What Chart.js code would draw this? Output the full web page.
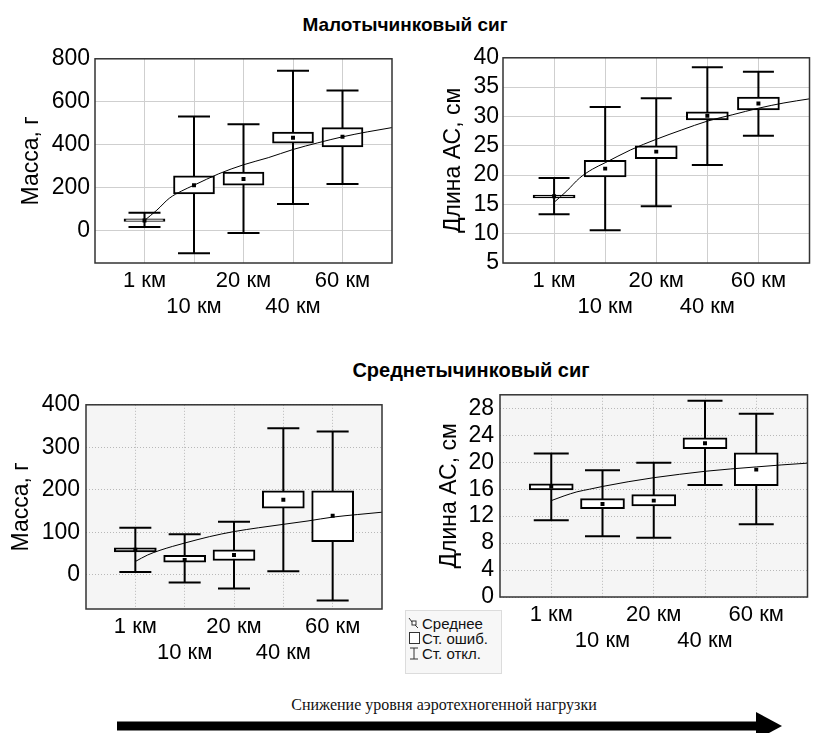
<!DOCTYPE html>
<html><head><meta charset="utf-8">
<script src="https://cdn.jsdelivr.net/npm/chart.js@4.4.1/dist/chart.umd.min.js"></script>
<style>
body{margin:0;width:827px;height:733px;background:#fff;position:relative;overflow:hidden;font-family:Arial,'Liberation Sans',sans-serif;}
canvas{position:absolute;}
.title{position:absolute;font-weight:bold;white-space:nowrap;transform:translate(-50%,-50%);color:#000;}
#legend{position:absolute;left:405px;top:610px;width:95px;height:62px;background:#f7f7f7;border:1px solid #dcdcdc;font-size:15px;color:#111;}
#legend .row{position:absolute;left:2px;height:15px;line-height:15px;white-space:nowrap;}
#legend svg{position:absolute;left:0;top:1px;}
#legend span{position:absolute;left:14px;top:0;}
#arrowText{position:absolute;left:444px;top:705px;transform:translate(-50%,-50%);font-family:'Liberation Serif','Times New Roman',serif;font-size:16px;white-space:nowrap;color:#111;}
</style></head><body>
<div class="title" style="left:405px;top:25px;font-size:19px">Малотычинковый сиг</div>
<div class="title" style="left:471px;top:370px;font-size:20px">Среднетычинковый сиг</div>
<canvas id="c1" width="410" height="290" style="left:0;top:40px"></canvas>
<canvas id="c2" width="412" height="290" style="left:415px;top:40px"></canvas>
<canvas id="c3" width="400" height="300" style="left:0;top:385px"></canvas>
<canvas id="c4" width="417" height="310" style="left:410px;top:375px"></canvas>
<div id="legend">
  <div class="row" style="top:5px"><svg width="12" height="13"><path d="M1 1 L4 5 L10 11" stroke="#333" fill="none" stroke-width="1"/><rect x="4" y="4" width="4" height="4" fill="#fff" stroke="#333"/></svg><span>Среднее</span></div>
  <div class="row" style="top:20px"><svg width="12" height="13"><rect x="1.5" y="0.5" width="10" height="11" fill="#fff" stroke="#333"/></svg><span>Ст. ошиб.</span></div>
  <div class="row" style="top:35px"><svg width="12" height="13"><path d="M2 1 H10 M6 1 V12 M2 12 H10" stroke="#333" fill="none"/></svg><span>Ст. откл.</span></div>
</div>
<div id="arrowText">Снижение уровня аэротехногенной нагрузки</div>
<svg width="827" height="733" style="position:absolute;left:0;top:0;pointer-events:none">
  <rect x="117" y="721.5" width="642" height="9" fill="#000"/>
  <polygon points="756,712 782,726 756,740" fill="#000"/>
</svg>
<script>
// ---- data ----
const categories = ['1 км', '10 км', '20 км', '40 км', '60 км'];
const trendX = [0, 0.25, 0.5, 0.75, 1, 1.5, 2, 2.5, 3, 3.5, 4, 4.5, 5];

// Малотычинковый сиг — масса, г
const m1Ticks = [0, 200, 400, 600, 800];
const m1Mean = [48, 212, 241, 433, 437];
const m1SeLo = [44, 171, 212, 407, 390];
const m1SeHi = [55, 256, 273, 459, 480];
const m1SdLo = [17, -105, -11, 124, 217];
const m1SdHi = [84, 531, 496, 744, 653];
const m1Trend = [48, 96, 151, 185, 212, 265, 307, 340, 378, 409, 437, 460, 480];

// Малотычинковый сиг — длина АС, см
const l1Ticks = [5, 10, 15, 20, 25, 30, 35, 40];
const l1Mean = [16.4, 21.1, 24.0, 30.1, 32.2];
const l1SeLo = [16.1, 19.7, 22.8, 29.4, 31.1];
const l1SeHi = [16.6, 22.5, 25.0, 30.8, 33.3];
const l1SdLo = [13.3, 10.6, 14.7, 21.7, 26.7];
const l1SdHi = [19.5, 31.6, 33.1, 38.4, 37.6];
const l1Trend = [15.35, 17.3, 19.5, 21.0, 22.1, 24.3, 26.1, 27.7, 29.2, 30.3, 31.4, 32.3, 33.0];

// Среднетычинковый сиг — масса, г
const m2Ticks = [0, 100, 200, 300, 400];
const m2Mean = [59.5, 35.5, 47, 177, 139];
const m2SeLo = [54, 30, 34, 157, 78];
const m2SeHi = [64, 46, 59, 198, 198];
const m2SdLo = [7, -18, -32, 8.5, -60];
const m2SdHi = [111, 96, 125, 345, 337];
const m2Trend = [31.7, 47, 58, 67, 75, 90, 102, 111, 119, 127, 136, 142, 147.5];

// Среднетычинковый сиг — длина АС, см
const l2Ticks = [0, 4, 8, 12, 16, 20, 24, 28];
const l2Mean = [16.4, 13.8, 14.3, 22.8, 18.9];
const l2SeLo = [15.9, 13.1, 13.5, 22.0, 16.5];
const l2SeHi = [16.8, 14.6, 15.2, 23.6, 21.4];
const l2SdLo = [11.4, 9.0, 8.8, 16.6, 10.8];
const l2SdHi = [21.3, 18.8, 19.9, 29.1, 27.2];
const l2Trend = [14.3, 15.0, 15.6, 16.0, 16.4, 17.1, 17.7, 18.2, 18.65, 19.0, 19.3, 19.6, 19.86];

// ---- rendering ----
Chart.defaults.font.family = 'Arial, "Liberation Sans", sans-serif';
Chart.defaults.color = '#000';

const framePlugin = {
  id: 'frame',
  beforeDraw(chart, args, opts) {
    const {ctx, chartArea: a} = chart;
    if (opts.bg) { ctx.save(); ctx.fillStyle = opts.bg; ctx.fillRect(a.left, a.top, a.width, a.height); ctx.restore(); }
  },
  afterDraw(chart) {
    const {ctx, chartArea: a} = chart;
    ctx.save(); ctx.strokeStyle = '#333'; ctx.lineWidth = 1.5;
    ctx.strokeRect(a.left, a.top, a.width, a.height); ctx.restore();
  }
};

function boxChart(id, o) {
  const idx = o.mean.map((_, i) => i);
  return new Chart(document.getElementById(id), {
    type: 'scatter',
    data: { datasets: [
      { type: 'bar', data: idx.map(i => ({x: i, y: [o.sdLo[i], o.sdHi[i]]})), backgroundColor: '#000', borderWidth: 0, barThickness: 2, inflateAmount: 0, grouped: false, order: 5 },
      { type: 'bar', data: idx.map(i => ({x: i, y: [o.seLo[i], o.seHi[i]]})), backgroundColor: '#fff', borderColor: '#000', borderWidth: 2, borderSkipped: false, barThickness: o.boxW, grouped: false, order: 4 },
      { type: 'scatter', data: idx.flatMap(i => [{x: i, y: o.sdLo[i]}, {x: i, y: o.sdHi[i]}]), pointStyle: 'line', pointRadius: o.capW / 2, borderColor: '#000', borderWidth: 2, order: 3 },
      { type: 'line', data: trendX.map((x, i) => ({x, y: o.trend[i]})), borderColor: '#000', borderWidth: 1, pointRadius: 0, cubicInterpolationMode: 'monotone', fill: false, order: 2 },
      { type: 'scatter', data: idx.map(i => ({x: i, y: o.mean[i]})), pointStyle: 'rect', pointRadius: 2.8, backgroundColor: '#000', borderWidth: 0, order: 1 }
    ]},
    options: {
      responsive: false, animation: false, devicePixelRatio: 1,
      layout: { padding: { top: o.padTop, right: o.padRight, left: 0, bottom: 0 } },
      plugins: { legend: { display: false }, tooltip: { enabled: false }, frame: { bg: o.bg } },
      scales: {
        x: {
          type: 'linear', min: -1, max: 5, offset: false,
          afterBuildTicks: s => { s.ticks = categories.map((_, i) => ({value: i})); },
          afterFit: s => { s.height = o.xH; },
          grid: { color: o.grid, lineWidth: 1, drawTicks: false, offset: false },
          border: { display: false, dash: o.dash },
          ticks: { autoSkip: false, maxRotation: 0, padding: 4.5, font: { size: 22, lineHeight: 1.2 },
            callback: v => (v % 2 === 0 ? [categories[v], ''] : ['', categories[v]]) }
        },
        y: {
          type: 'linear', min: o.min, max: o.max,
          afterBuildTicks: s => { s.ticks = o.ticks.map(v => ({value: v})); },
          afterFit: s => { s.width = o.yW; },
          grid: { color: o.grid, lineWidth: 1, drawTicks: false },
          border: { display: false, dash: o.dash },
          ticks: { autoSkip: false, padding: o.tickPad, font: { size: 23 } },
          title: { display: true, text: o.title, font: { size: 23, lineHeight: 1.2 }, padding: { top: o.titlePad, bottom: 0 } }
        }
      }
    },
    plugins: [framePlugin]
  });
}

boxChart('c1', { mean: m1Mean, seLo: m1SeLo, seHi: m1SeHi, sdLo: m1SdLo, sdHi: m1SdHi, trend: m1Trend, ticks: m1Ticks,
  min: -150, max: 800, title: 'Масса, г', yW: 95, xH: 67, padTop: 16, padRight: 12, titlePad: 18, tickPad: 5,
  boxW: 41, capW: 32, bg: null, grid: '#cfcfcf', dash: [] });
boxChart('c2', { mean: l1Mean, seLo: l1SeLo, seHi: l1SeHi, sdLo: l1SdLo, sdHi: l1SdHi, trend: l1Trend, ticks: l1Ticks,
  min: 5, max: 40, title: 'Длина АС, см', yW: 88, xH: 67, padTop: 15, padRight: 8, titlePad: 25, tickPad: 4,
  boxW: 42, capW: 31, bg: null, grid: '#cfcfcf', dash: [] });
boxChart('c3', { mean: m2Mean, seLo: m2SeLo, seHi: m2SeHi, sdLo: m2SdLo, sdHi: m2SdHi, trend: m2Trend, ticks: m2Ticks,
  min: -80, max: 400, title: 'Масса, г', yW: 86, xH: 76, padTop: 17, padRight: 5, titlePad: 8, tickPad: 6,
  boxW: 42, capW: 32, bg: '#f5f5f5', grid: '#b8b8b8', dash: [1, 2] });
boxChart('c4', { mean: l2Mean, seLo: l2SeLo, seHi: l2SeHi, sdLo: l2SdLo, sdHi: l2SdHi, trend: l2Trend, ticks: l2Ticks,
  min: 0, max: 30, title: 'Длина АС, см', yW: 90, xH: 88, padTop: 15, padRight: 3, titlePad: 26, tickPad: 6,
  boxW: 44, capW: 35, bg: '#f5f5f5', grid: '#b8b8b8', dash: [1, 2] });
</script>
</body></html>
